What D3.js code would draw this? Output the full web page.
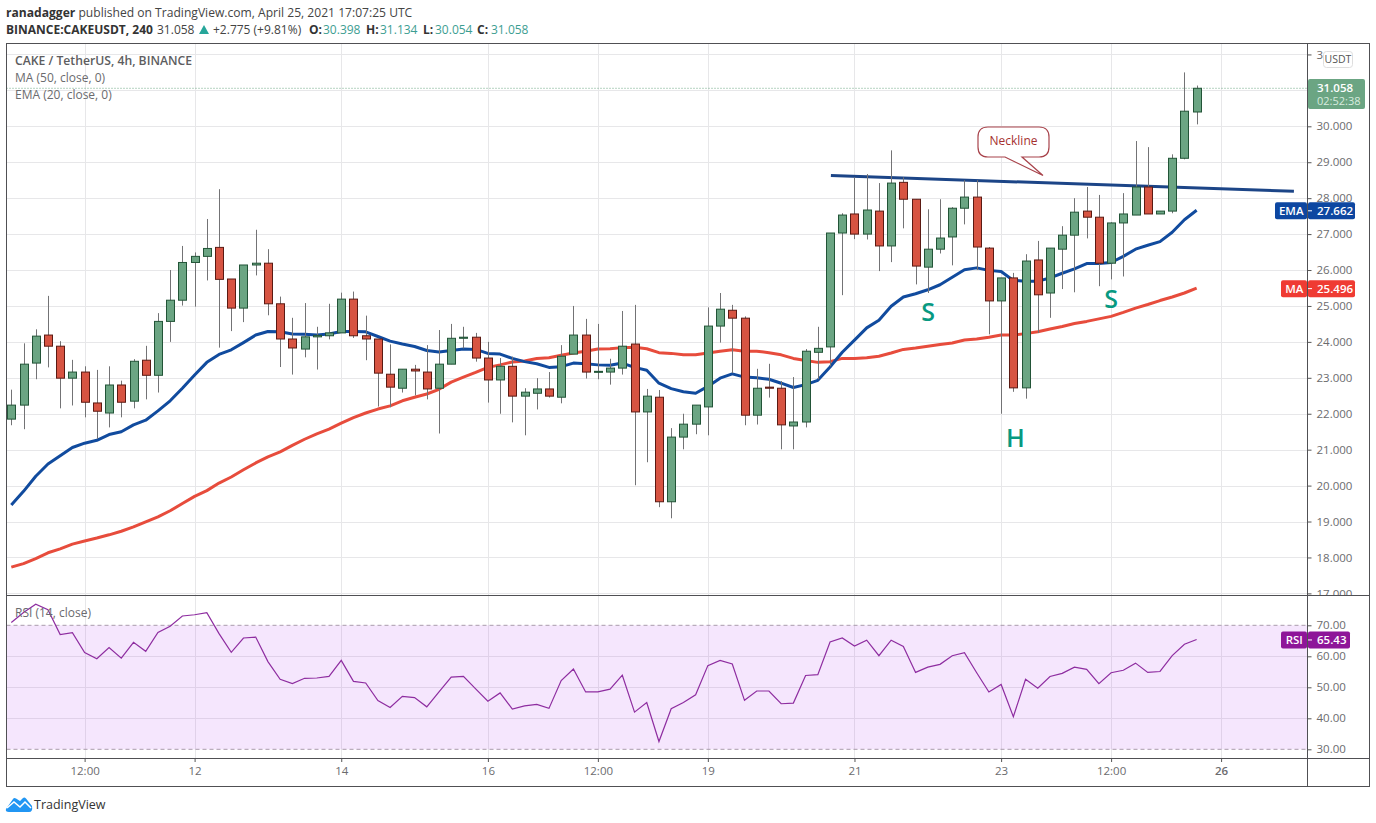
<!DOCTYPE html>
<html>
  <head>
    <meta charset="utf-8" />
    <title>CAKE / TetherUS</title>
    <style>
      html, body { margin: 0; padding: 0; background: #fff; }
      svg { display: block; }
      text { font-family: "Open Sans", "Noto Sans", sans-serif; }
    </style>
  </head>
  <body>
  <div id="container"></div>
  <script src="https://cdnjs.cloudflare.com/ajax/libs/d3/7.8.5/d3.min.js"></script>
  <script type="text/javascript">

    // candles, oldest first, 4h bars
    var opens = [
      21.85,22.24,23.41,24.19,23.88,22.99,23.16,22.30,22.02,22.80,
      22.35,23.49,23.07,24.57,25.16,26.21,26.38,26.63,25.75,24.94,
      26.14,26.19,25.06,24.08,23.80,24.14,24.17,24.25,25.19,24.17,
      24.08,23.10,22.71,23.24,23.16,22.71,23.38,24.10,24.13,23.55,
      22.94,23.32,22.49,22.57,22.69,22.46,23.66,24.19,23.16,23.16,
      23.27,23.94,22.05,22.46,19.55,21.35,21.71,22.19,24.44,24.88,
      24.66,21.96,22.74,22.71,21.66,21.77,23.71,23.86,27.03,27.56,
      27.00,27.64,26.67,28.44,27.97,26.08,26.58,26.92,27.72,28.03,
      26.61,25.14,25.78,22.72,26.28,25.36,26.58,26.97,27.64,27.47,
      26.19,27.31,27.53,28.31,27.56,27.64,29.11,30.398];
    var closes = [
      22.24,23.38,24.16,23.88,22.99,23.16,22.32,22.07,22.80,22.32,
      23.46,23.07,24.57,25.16,26.21,26.38,26.60,25.74,24.94,26.14,
      26.19,25.06,24.08,23.83,24.14,24.18,24.25,25.19,24.17,24.08,
      23.13,22.74,23.24,23.19,22.69,23.38,24.10,24.13,23.55,22.94,
      23.32,22.49,22.60,22.69,22.49,23.60,24.19,23.16,23.18,23.27,
      23.88,22.05,22.49,19.55,21.35,21.71,22.24,24.44,24.91,24.66,
      21.96,22.71,22.71,21.69,21.77,23.74,23.82,27.03,27.53,27.00,
      27.67,26.67,28.42,27.97,26.11,26.58,26.89,27.72,28.03,26.64,
      25.14,25.78,22.72,26.25,25.31,26.61,26.97,27.61,27.47,26.19,
      27.31,27.56,28.31,27.56,27.64,29.11,30.42,31.058];
    var highs = [
      22.67,23.96,24.35,25.28,24.02,23.50,23.32,23.22,23.32,22.92,
      23.52,23.89,24.80,26.00,26.67,26.49,27.42,28.25,25.75,26.14,
      27.12,26.58,25.26,24.67,25.08,24.42,25.06,25.37,25.40,24.73,
      24.08,23.93,23.24,23.36,23.91,24.33,24.50,24.42,24.25,24.00,
      23.55,23.59,22.71,22.99,23.16,23.91,25.00,24.64,24.50,23.53,
      24.86,25.03,22.69,22.66,21.60,22.00,22.24,24.96,25.36,25.03,
      24.71,23.25,23.39,22.91,23.02,23.80,24.42,27.03,27.58,28.58,
      28.67,28.42,29.33,28.58,27.97,27.69,27.97,27.75,28.50,28.50,
      26.64,25.78,25.92,26.44,26.81,26.61,27.22,28.00,28.31,28.09,
      27.33,28.14,29.59,29.42,27.64,29.22,31.50,31.134];
    var lows = [
      21.68,21.57,22.96,23.29,22.15,22.23,21.90,21.30,21.62,21.90,
      22.15,22.40,22.59,24.00,25.01,24.98,25.71,23.84,24.30,24.55,
      25.85,24.74,23.30,23.09,23.57,23.23,24.07,24.25,24.11,23.49,
      22.20,22.18,22.59,22.51,22.40,21.45,23.38,23.82,23.45,22.31,
      22.00,21.76,21.40,22.12,22.45,22.29,23.66,22.98,22.96,22.81,
      23.09,20.01,20.65,19.40,19.09,21.01,21.43,21.40,23.98,23.13,
      21.68,21.70,22.45,21.01,21.01,21.62,22.96,23.32,25.30,26.86,
      26.85,25.97,26.22,27.16,25.60,25.36,26.46,26.13,27.27,26.00,
      24.21,22.00,22.61,22.42,24.25,24.67,25.47,25.38,26.88,25.55,
      25.74,25.82,27.53,27.56,27.56,27.58,29.08,30.054];

    // indicators
    var ema20 = [
      19.46,19.84,20.26,20.60,20.83,21.06,21.18,21.26,21.42,21.50,
      21.69,21.82,22.08,22.36,22.71,23.08,23.43,23.65,23.78,23.98,
      24.19,24.29,24.28,24.22,24.21,24.19,24.22,24.29,24.29,24.28,
      24.15,24.02,23.94,23.87,23.76,23.72,23.76,23.80,23.79,23.68,
      23.66,23.54,23.45,23.39,23.29,23.31,23.41,23.39,23.36,23.35,
      23.41,23.29,23.21,22.85,22.70,22.61,22.57,22.76,22.99,23.11,
      23.02,23.00,22.96,22.85,22.73,22.81,22.93,23.30,23.71,24.05,
      24.39,24.60,24.99,25.25,25.34,25.45,25.59,25.80,26.01,26.06,
      25.99,25.96,25.71,25.69,25.69,25.78,25.91,26.03,26.18,26.18,
      26.21,26.38,26.58,26.69,26.79,27.05,27.40,27.662];
    var ma50 = [
      17.73,17.83,17.97,18.13,18.24,18.37,18.46,18.54,18.63,18.73,
      18.85,18.99,19.13,19.30,19.50,19.70,19.86,20.07,20.24,20.44,
      20.63,20.80,20.94,21.12,21.29,21.44,21.57,21.74,21.89,22.02,
      22.13,22.22,22.36,22.46,22.55,22.68,22.88,23.02,23.15,23.29,
      23.36,23.44,23.47,23.54,23.56,23.63,23.69,23.74,23.80,23.81,
      23.84,23.85,23.81,23.70,23.68,23.64,23.64,23.69,23.74,23.78,
      23.74,23.74,23.70,23.64,23.54,23.48,23.43,23.45,23.54,23.54,
      23.56,23.60,23.69,23.79,23.83,23.88,23.93,23.97,24.05,24.08,
      24.13,24.19,24.19,24.23,24.28,24.36,24.43,24.51,24.57,24.64,
      24.71,24.82,24.94,25.04,25.15,25.25,25.36,25.496];
    var rsi14 = [
      70.9,74.1,76.8,75.0,67.0,67.6,61.2,59.2,62.8,59.4,
      64.5,61.6,67.7,69.7,73.0,73.4,74.1,67.3,61.3,65.9,
      66.2,58.3,52.6,51.2,52.9,53.0,53.5,58.7,51.9,51.4,
      45.7,43.5,47.1,46.7,43.7,48.5,53.3,53.5,49.5,45.5,
      48.2,43.0,44.0,44.5,43.2,52.2,55.9,48.5,48.5,49.4,
      53.9,42.0,45.1,32.5,43.1,45.1,47.6,57.0,58.7,57.5,
      45.8,48.8,48.8,44.7,44.9,53.8,54.1,64.6,65.9,63.3,
      65.2,60.2,65.2,63.2,54.8,56.5,57.4,60.2,61.2,54.7,
      48.5,50.9,40.5,52.6,49.7,53.5,54.5,56.5,55.8,51.2,
      54.7,55.5,57.8,54.8,55.1,60.2,63.9,65.43];

    // axis labels
    var priceTicks = [32,31,30,29,28,27,26,25,24,23,22,21,20,19,18,17];
    var rsiTicks = [70,60,50,40,30];
    var timeTickBars = [6,15,27,39,48,57,69,81,90,99];
    var timeTickLabels = ['12:00','12','14','16','12:00','19','21','23','12:00','26'];

    // drawn trend line: bar index and price at both ends
    var necklineBars = [67.07,104.96];
    var necklinePrices = [28.63,28.19];

    var width = 1376;
    var height = 823;

    // window.top can't be reassigned, so no bare top here
    var frameLeft = 6.5, frameRight = 1369.5, axisX = 1307.5;
    var frameTop = 43.5, paneDiv = 595, rsiBottom = 758, frameBottom = 786.5;

    var svg = d3.select('#container').append('svg').attr('width',width).attr('height',height);

    var x = d3.scaleLinear().domain([0,97]).range([11.3,11.3+97*12.22]);
    var y = d3.scaleLinear().domain([30,20]).range([126.3,485.6]);
    var yRsi = d3.scaleLinear().domain([70,30]).range([625.3,749.3]);

    var defs = svg.append('defs');
    defs.append('clipPath').attr('id','mainClip').append('rect')
      .attr('x',frameLeft).attr('y',frameTop).attr('width',axisX-frameLeft).attr('height',paneDiv-frameTop);
    defs.append('clipPath').attr('id','axisClip').append('rect')
      .attr('x',axisX).attr('y',frameTop).attr('width',frameRight-axisX).attr('height',paneDiv-frameTop);

    var gridColor = '#e7e7e9';
    var axisText = '#6b6b6e';

    // grids
    var grid = svg.append('g').attr('shape-rendering','crispEdges');
    grid.selectAll('line.h').data(priceTicks).enter().append('line')
      .attr('x1',frameLeft).attr('x2',axisX).attr('y1',function(d){return Math.round(y(d))+0.5;}).attr('y2',function(d){return Math.round(y(d))+0.5;})
      .attr('stroke',gridColor);
    grid.selectAll('line.r').data(rsiTicks.slice(1,4)).enter().append('line')
      .attr('x1',frameLeft).attr('x2',axisX).attr('y1',function(d){return Math.round(yRsi(d))+0.5;}).attr('y2',function(d){return Math.round(yRsi(d))+0.5;})
      .attr('stroke',gridColor);
    grid.selectAll('line.v').data(timeTickBars).enter().append('line')
      .attr('x1',function(d){return Math.round(x(d))+0.5;}).attr('x2',function(d){return Math.round(x(d))+0.5;})
      .attr('y1',frameTop).attr('y2',rsiBottom).attr('stroke',gridColor);

    // rsi band sits over the grid
    svg.append('rect').attr('x',frameLeft).attr('y',yRsi(70)).attr('width',axisX-frameLeft).attr('height',yRsi(30)-yRsi(70))
      .attr('fill','rgb(176,60,240)').attr('fill-opacity',0.13);
    [70,30].forEach(function(v){
      svg.append('line').attr('x1',frameLeft).attr('x2',axisX).attr('y1',yRsi(v)).attr('y2',yRsi(v))
        .attr('stroke','#a99bac').attr('stroke-dasharray','4,3');
    });

    var main = svg.append('g').attr('clip-path','url(#mainClip)');

    // last price dotted line
    main.append('line').attr('x1',frameLeft).attr('x2',axisX).attr('y1',y(31.058)).attr('y2',y(31.058))
      .attr('stroke','#6ba583').attr('stroke-dasharray','1,2');

    var bars = d3.range(closes.length);

    var lineOf = function(values){
      return d3.line().x(function(d){return x(d);}).y(function(d){return y(values[d]);})(bars);
    };

    main.append('path').attr('d',lineOf(ma50)).attr('fill','none').attr('stroke','#e74c3c')
      .attr('stroke-width',3).attr('stroke-linejoin','round');
    main.append('path').attr('d',lineOf(ema20)).attr('fill','none').attr('stroke','#114b9e')
      .attr('stroke-width',3).attr('stroke-linejoin','round');

    // neckline trend
    main.append('line')
      .attr('x1',x(necklineBars[0])).attr('x2',x(necklineBars[1]))
      .attr('y1',y(necklinePrices[0])).attr('y2',y(necklinePrices[1]))
      .attr('stroke','#1c4587').attr('stroke-width',3);

    // candles
    var isUp = function(i){return closes[i]>=opens[i];};
    main.append('g').selectAll('line').data(bars).enter().append('line')
      .attr('x1',function(d){return Math.round(x(d))+0.5;}).attr('x2',function(d){return Math.round(x(d))+0.5;})
      .attr('y1',function(d){return y(highs[d]);}).attr('y2',function(d){return y(lows[d]);})
      .attr('stroke','#737375').attr('stroke-width',1);
    main.append('g').selectAll('rect').data(bars).enter().append('rect')
      .attr('x',function(d){return Math.round(x(d))-3.5;})
      .attr('width',8)
      .attr('y',function(d){return y(Math.max(opens[d],closes[d]));})
      .attr('height',function(d){return Math.max(1,Math.abs(y(opens[d])-y(closes[d])));})
      .attr('fill',function(d){return isUp(d)?'#6ba583':'#d75442';})
      .attr('stroke',function(d){return isUp(d)?'#225437':'#5b1a13';})
      .attr('stroke-width',1);

    // neckline callout
    svg.append('path')
      .attr('d','M988,127 H1039 Q1049,127 1049,137 V147 Q1049,157 1039,157 H1022 L1043,175.5 L1005,157 H988 Q978,157 978,147 V137 Q978,127 988,127 Z')
      .attr('fill','#fff').attr('stroke','#a8434b').attr('stroke-width',1.2);
    svg.append('text').attr('x',1013.5).attr('y',145).attr('text-anchor','middle')
      .attr('font-size',12).attr('fill','#a5312f').text('Neckline');

    // head and shoulders letters
    var patternLabels = [['S',928,321],['H',1015.5,447],['S',1111,308]];
    svg.selectAll('text.hs').data(patternLabels).enter().append('text')
      .attr('x',function(d){return d[1];}).attr('y',function(d){return d[2];})
      .attr('text-anchor','middle').attr('font-size',25).attr('font-weight',600)
      .attr('fill','#089981').text(function(d){return d[0];});

    // rsi line
    svg.append('path')
      .attr('d',d3.line().x(function(d){return x(d);}).y(function(d){return yRsi(rsi14[d]);})(bars))
      .attr('fill','none').attr('stroke','#8e2da0').attr('stroke-width',1.2);

    // price axes, the 32 label is cut by the button and 31 sits under the badge
    var priceFormat = d3.format('.3f');
    var priceAxis = d3.axisRight(y).tickValues(priceTicks)
      .tickFormat(function(d){return d===32?'3':d===31?'':priceFormat(d);}).tickSize(4).tickPadding(5);
    var priceWrap = svg.append('g').attr('clip-path','url(#axisClip)');
    var priceG = priceWrap.append('g').attr('transform','translate('+axisX+',0)').call(priceAxis);
    priceG.select('.domain').remove();

    var rsiAxis = d3.axisRight(yRsi).tickValues(rsiTicks).tickFormat(d3.format('.2f')).tickSize(4).tickPadding(5);
    var rsiG = svg.append('g').attr('transform','translate('+axisX+',0)').call(rsiAxis);
    rsiG.select('.domain').remove();

    var timeAxis = d3.axisBottom(x).tickValues(timeTickBars)
      .tickFormat(function(d,i){return timeTickLabels[i];}).tickSize(4).tickPadding(5);
    var timeG = svg.append('g').attr('transform','translate(0,'+rsiBottom+')').call(timeAxis);
    timeG.select('.domain').remove();

    [priceG,rsiG,timeG].forEach(function(g){
      g.selectAll('text').attr('font-size',11.5).attr('font-family','"Open Sans", sans-serif').attr('fill',axisText);
      g.selectAll('line').attr('stroke','#555');
    });
    timeG.selectAll('.tick').filter(function(d){return d===99;}).select('text').attr('font-weight',600);

    // frame
    var frame = svg.append('g').attr('fill','none').attr('stroke','#505054').attr('shape-rendering','crispEdges');
    frame.append('rect').attr('x',frameLeft).attr('y',frameTop).attr('width',frameRight-frameLeft).attr('height',frameBottom-frameTop);
    frame.append('line').attr('x1',frameLeft).attr('x2',frameRight).attr('y1',paneDiv+0.5).attr('y2',paneDiv+0.5);
    frame.append('line').attr('x1',frameLeft).attr('x2',frameRight).attr('y1',rsiBottom+0.5).attr('y2',rsiBottom+0.5);
    frame.append('line').attr('x1',axisX).attr('x2',axisX).attr('y1',frameTop).attr('y2',frameBottom);

    // axis badges
    var badge = function(name,nameX,boxRight,value,cy,color){
      svg.append('rect').attr('x',nameX).attr('y',cy-8.5).attr('width',axisX-0.5-nameX).attr('height',17).attr('rx',2).attr('fill',color);
      svg.append('rect').attr('x',axisX+0.5).attr('y',cy-8.5).attr('width',boxRight-axisX-0.5).attr('height',17).attr('rx',2).attr('fill',color);
      svg.append('line').attr('x1',axisX+0.5).attr('x2',axisX+4.5).attr('y1',cy).attr('y2',cy).attr('stroke','#fff');
      svg.append('text').attr('x',(nameX+axisX)/2).attr('y',cy+4).attr('text-anchor','middle')
        .attr('font-size',11.5).attr('font-weight',600).attr('fill','#fff').text(name);
      svg.append('text').attr('x',axisX+9.5).attr('y',cy+4)
        .attr('font-size',11.5).attr('font-weight',600).attr('fill','#fff').text(value);
    };
    badge('EMA',1275,1355,'27.662',y(27.662)+0.5,'#0d47a1');
    badge('MA',1281,1355,'25.496',y(25.496)+0.5,'#ef3b33');
    badge('RSI',1281,1350,'65.43',yRsi(65.43)+0.5,'#8e1599');

    // last price badge with countdown
    svg.append('rect').attr('x',axisX+0.5).attr('y',79).attr('width',57).attr('height',30).attr('rx',2).attr('fill','#6ba583');
    svg.append('text').attr('x',axisX+9.5).attr('y',92).attr('font-size',11.5).attr('font-weight',600).attr('fill','#fff').text('31.058');
    svg.append('text').attr('x',axisX+9.5).attr('y',105).attr('font-size',11).attr('fill','#d8ebdf').text('02:52:38');

    // currency button
    svg.append('rect').attr('x',1323.5).attr('y',51.5).attr('width',29).attr('height',16).attr('rx',3)
      .attr('fill','#fff').attr('stroke','#dedede');
    svg.append('text').attr('x',1338).attr('y',63).attr('text-anchor','middle').attr('font-size',10.5).attr('fill','#555').text('USDT');

    // pane legends
    svg.append('text').attr('x',15).attr('y',65).attr('font-size',12.2).attr('font-weight',600).attr('fill','#5d5d60').text('CAKE / TetherUS, 4h, BINANCE');
    svg.append('text').attr('x',15).attr('y',82).attr('font-size',12).attr('fill','#6b6b6e').text('MA (50, close, 0)');
    svg.append('text').attr('x',15).attr('y',99).attr('font-size',12).attr('fill','#6b6b6e').text('EMA (20, close, 0)');
    svg.append('text').attr('x',15).attr('y',617).attr('font-size',12).attr('fill','#6b6b6e').text('RSI (14, close)');

    // header rows
    var head1 = svg.append('text').attr('x',6).attr('y',17).attr('font-size',12.1).attr('fill','#444');
    head1.append('tspan').attr('font-weight',700).attr('fill','#333').text('ranadagger');
    head1.append('tspan').text(' published on TradingView.com, April 25, 2021 17:07:25 UTC');

    var headPieces = [
      ['BINANCE:CAKEUSDT, 240',6,700,'#333'],
      ['31.058',157,400,'#444'],
      ['+2.775 (+9.81%)',213,400,'#444'],
      ['O:',309,700,'#333'],['30.398',323,400,'#3d9e92'],
      ['H:',366,700,'#333'],['31.134',380,400,'#3d9e92'],
      ['L:',423,700,'#333'],['30.054',435,400,'#3d9e92'],
      ['C:',477,700,'#333'],['31.058',491,400,'#3d9e92']
    ];
    svg.selectAll('text.head').data(headPieces).enter().append('text')
      .attr('x',function(d){return d[1];}).attr('y',34).attr('font-size',12)
      .attr('font-weight',function(d){return d[2];}).attr('fill',function(d){return d[3];})
      .text(function(d){return d[0];});
    svg.append('path').attr('d','M199,34 L204,25 L209,34 Z').attr('fill','#26a69a');

    // footer logo
    svg.append('path').attr('d','M6,809 L13,799 Q14,797.5 16,798.5 L20,801 L23,798 Q24.5,797 26,798.5 L32,806 Q33,812 29,812 H9 Q5,812 6,809 Z').attr('fill','#2196f3');
    svg.append('path').attr('d','M7,808 L14,802 L20,807 L25,802 L31,808').attr('fill','none').attr('stroke','#fff').attr('stroke-width',1.5);
    svg.append('text').attr('x',34).attr('y',809).attr('font-size',12.5).attr('fill','#333').text('TradingView');

  </script>
  </body>
</html>
